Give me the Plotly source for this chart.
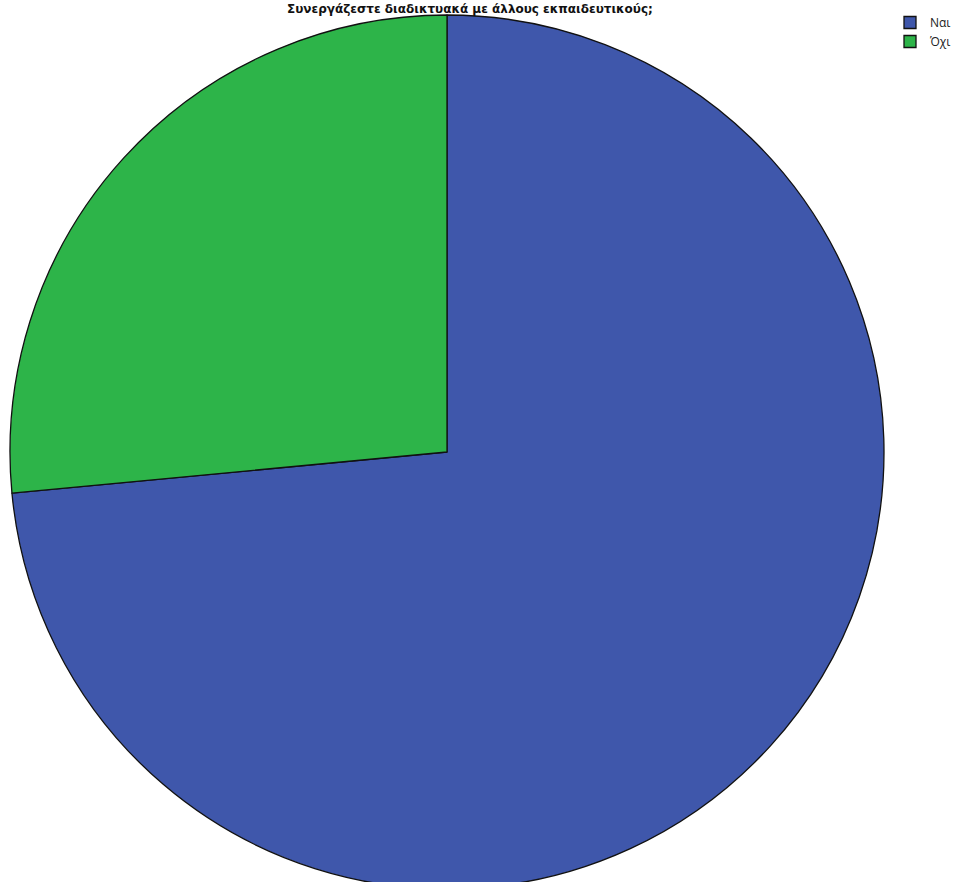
import plotly.graph_objects as go

labels = ["Ναι", "Όχι"]
values = [73.5, 26.5]
colors = ["#3F57AB", "#2DB449"]
title_text = "Συνεργάζεστε διαδικτυακά με άλλους εκπαιδευτικούς;"

W, H = 973, 890
cx, cy, r = 447, 452, 437

fig = go.Figure(go.Pie(
    labels=labels,
    values=values,
    marker=dict(colors=colors, line=dict(color="#111111", width=1.3)),
    sort=False,
    direction="clockwise",
    rotation=0,
    textinfo="none",
    hoverinfo="label+percent",
    domain=dict(x=[(cx - r) / W, (cx + r) / W], y=[1 - (cy + r) / H, 1 - (cy - r) / H]),
))

fig.add_annotation(
    text="<b>" + title_text + "</b>",
    x=470 / W, y=1 - 1 / H, xref="paper", yref="paper",
    xanchor="center", yanchor="top", showarrow=False,
    font=dict(family="DejaVu Sans", size=12, color="#111111"),
    borderpad=0,
)

fig.update_layout(
    width=W, height=H,
    margin=dict(l=0, r=0, t=0, b=0),
    paper_bgcolor="white",
    plot_bgcolor="white",
    showlegend=True,
    legend=dict(
        x=890 / W, y=1 - 8 / H, xanchor="left", yanchor="top",
        font=dict(family="Open Sans", size=12, color="#222222"),
        bgcolor="rgba(0,0,0,0)", tracegroupgap=0, itemwidth=30,
    ),
)

fig.write_html("out.html", config={"displayModeBar": False},
               post_script="document.body.style.margin='0';document.body.style.overflow='hidden';")
